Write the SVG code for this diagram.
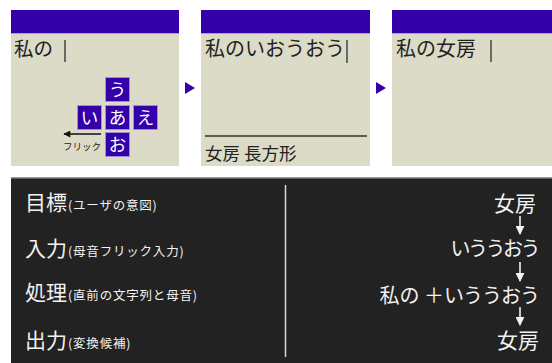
<svg xmlns="http://www.w3.org/2000/svg" width="552" height="363" viewBox="0 0 552 363">
<defs>
<style>
.bar{fill:#3300aa}
.body{fill:#dcdbc8}
.sep{fill:#a89fd8}
.jp{font-family:"Noto Sans CJK JP","Noto Sans",sans-serif;fill:#222}
.cur{stroke:#444;stroke-width:1.5}
.key{fill:#3300aa;stroke:#9a90d8;stroke-width:1}
.keyt{font-family:"Noto Sans CJK JP",sans-serif;fill:#fff;font-size:17.5px;text-anchor:middle}
.tri{fill:#3300aa}
.wt{font-family:"Noto Sans CJK JP","Noto Sans",sans-serif;fill:#f2f2f2}
.big{font-size:21px}
.small{font-size:12.5px;letter-spacing:0.8px}
.arr{stroke:#f2f2f2;stroke-width:1.6;fill:none}
</style>
<marker id="ah" viewBox="0 0 10 10" refX="9" refY="5" markerWidth="9" markerHeight="9" orient="auto" markerUnits="userSpaceOnUse">
<path d="M0,0 L10,5 L0,10 z" fill="#f2f2f2"/>
</marker>
<marker id="ahk" viewBox="0 0 10 10" refX="9" refY="5" markerWidth="8" markerHeight="7" orient="auto" markerUnits="userSpaceOnUse">
<path d="M0,0 L10,5 L0,10 z" fill="#111"/>
</marker>
</defs>
<rect width="552" height="363" fill="#ffffff"/>

<g id="panel1">
<rect class="bar" x="11" y="10" width="168" height="23"/>
<rect class="sep" x="11" y="33" width="168" height="1"/>
<rect class="body" x="11" y="34" width="168" height="132"/>
<text class="jp" x="14" y="56" font-size="19.5">私の</text>
<line class="cur" x1="65" y1="40" x2="65" y2="62"/>
<g id="keys">
<rect class="key" x="105.5" y="77.5" width="24" height="24"/>
<text class="keyt" x="117.5" y="96">う</text>
<rect class="key" x="77.5" y="105.5" width="24" height="24"/>
<text class="keyt" x="89.5" y="124">い</text>
<rect class="key" x="105.5" y="105.5" width="24" height="24"/>
<text class="keyt" x="117.5" y="124">あ</text>
<rect class="key" x="133.5" y="105.5" width="24" height="24"/>
<text class="keyt" x="145.5" y="124">え</text>
<rect class="key" x="105.5" y="132.5" width="24" height="24"/>
<text class="keyt" x="117.5" y="151">お</text>
</g>
<line x1="101" y1="134" x2="64" y2="134" stroke="#111" stroke-width="1.5" marker-end="url(#ahk)"/>
<text class="jp" x="63" y="150" font-size="9.5" fill="#111">フリック</text>
</g>

<g id="panel2">
<rect class="bar" x="201" y="10" width="169" height="23"/>
<rect class="sep" x="201" y="33" width="169" height="1"/>
<rect class="body" x="201" y="34" width="169" height="132"/>
<text class="jp" x="205" y="56" font-size="20">私のいおうおう</text>
<line class="cur" x1="347" y1="40" x2="347" y2="63"/>
<line x1="205" y1="136" x2="367" y2="136" stroke="#333" stroke-width="1.3"/>
<text class="jp" x="205" y="160" font-size="17.5">女房 長方形</text>
</g>

<g id="panel3">
<rect class="bar" x="392" y="10" width="160" height="23"/>
<rect class="sep" x="392" y="33" width="160" height="1"/>
<rect class="body" x="392" y="34" width="160" height="132"/>
<text class="jp" x="396" y="56" font-size="20">私の女房</text>
<line class="cur" x1="491" y1="40" x2="491" y2="62"/>
</g>

<g id="connectors">
<polygon class="tri" points="185,82 195,88 185,94"/>
<polygon class="tri" points="376,82 386,88 376,94"/>
</g>

<g id="summary">
<rect x="11" y="177" width="541" height="186" fill="#222222"/>
<rect x="11" y="177" width="541" height="1.5" fill="#9a9a9a"/>
<line x1="285.5" y1="185" x2="285.5" y2="357" stroke="#d8d8d8" stroke-width="1.5"/>
<text class="wt" x="25" y="210"><tspan class="big">目標</tspan><tspan class="small" dx="1">(ユーザの意図)</tspan></text>
<text class="wt" x="25" y="256"><tspan class="big">入力</tspan><tspan class="small" dx="1">(母音フリック入力)</tspan></text>
<text class="wt" x="25" y="300"><tspan class="big">処理</tspan><tspan class="small" dx="1">(直前の文字列と母音)</tspan></text>
<text class="wt" x="25" y="348"><tspan class="big">出力</tspan><tspan class="small" dx="1">(変換候補)</tspan></text>
<text class="wt big" x="536" y="211" text-anchor="end">女房</text>
<text class="wt" x="538" y="256" font-size="20" letter-spacing="-2.5" text-anchor="end">いううおう</text>
<text class="wt" x="539" y="303" font-size="20" text-anchor="end">私の ＋<tspan letter-spacing="-1">いううおう</tspan></text>
<text class="wt big" x="539" y="348" text-anchor="end">女房</text>
<g id="flow-arrows">
<line class="arr" x1="520" y1="216" x2="520" y2="234" marker-end="url(#ah)"/>
<line class="arr" x1="520" y1="262" x2="520" y2="281" marker-end="url(#ah)"/>
<line class="arr" x1="520" y1="307" x2="520" y2="325" marker-end="url(#ah)"/>
</g>
</g>
</svg>
